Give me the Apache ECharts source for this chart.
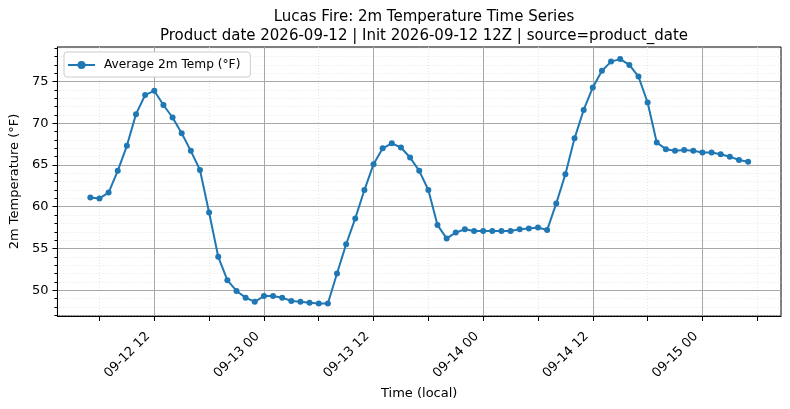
<!DOCTYPE html>
<html>
<head>
<meta charset="utf-8">
<script src="https://cdn.jsdelivr.net/npm/echarts@6/dist/echarts.min.js"></script>
<style>
  html, body { margin: 0; padding: 0; background: #fff; }
  #main { width: 790px; height: 409px; }
</style>
</head>
<body>
<div id="main"></div>
<script>
// hourly series, first point is 2026-09-12 05:00 local (x = hours since 09-12 00)
const firstHour = 5;
const temps = [
    61.1, 61.0, 61.7, 64.3, 67.3, 71.1, 73.4, 73.9, 72.2, 70.7,
    68.8, 66.7, 64.4, 59.3, 54.0, 51.2, 49.9, 49.1, 48.6, 49.3,
    49.3, 49.1, 48.7, 48.6, 48.5, 48.4, 48.4, 52.0, 55.5, 58.6,
    62.0, 65.1, 67.0, 67.6, 67.1, 65.9, 64.3, 62.0, 57.8, 56.2,
    56.9, 57.3, 57.1, 57.1, 57.1, 57.1, 57.1, 57.3, 57.4, 57.5,
    57.2, 60.4, 63.9, 68.2, 71.6, 74.3, 76.3, 77.4, 77.7, 77.0,
    75.6, 72.5, 67.7, 66.9, 66.7, 66.8, 66.7, 66.5, 66.5, 66.3,
    66.0, 65.6, 65.4
];
const hours = temps.map((t, i) => firstHour + i);

const xTicks = [12, 24, 36, 48, 60, 72];
const xTickLabels = ['09-12 12', '09-13 00', '09-13 12', '09-14 00', '09-14 12', '09-15 00'];
const xMinorTicks = [6, 18, 30, 42, 54, 66, 78];
const yTicks = [50, 55, 60, 65, 70, 75];
const yMinorTicks = [47, 48, 49, 51, 52, 53, 54, 56, 57, 58, 59, 61, 62, 63, 64,
    66, 67, 68, 69, 71, 72, 73, 74, 76, 77, 78, 79];

const font = 'DejaVu Sans';
const xMin = 1.4, xMax = 80.6;
const yMin = 46.9, yMax = 79.15;

let myChart = echarts.init(document.getElementById('main'));

let options = {
    animation: false,
    textStyle: { fontFamily: font },
    title: {
        text: 'Lucas Fire: 2m Temperature Time Series\nProduct date 2026-09-12 | Init 2026-09-12 12Z | source=product_date',
        left: 419,
        top: 3,
        textAlign: 'center',
        textStyle: { fontFamily: font, fontSize: 15, fontWeight: 'normal', color: '#000', lineHeight: 19 }
    },
    legend: {
        left: 64,
        top: 52,
        itemWidth: 27,
        itemHeight: 10,
        padding: [7, 10, 6, 3],
        backgroundColor: '#fff',
        borderColor: '#cccccc',
        borderWidth: 1,
        borderRadius: 3,
        textStyle: { fontFamily: font, fontSize: 12.2, color: '#000', padding: [0, 0, 0, 4] },
        data: ['Average 2m Temp (°F)']
    },
    grid: { left: 57, right: 9, top: 47, bottom: 93, show: true, borderColor: '#000', borderWidth: 1 },
    xAxis: [{
        type: 'value',
        min: xMin,
        max: xMax,
        z: 1,
        name: 'Time (local)',
        nameLocation: 'middle',
        nameGap: 70,
        nameTextStyle: { fontFamily: font, fontSize: 13, color: '#000' },
        axisLine: { show: true, lineStyle: { color: '#000', width: 1 } },
        axisTick: { show: true, customValues: xTicks, length: 5, lineStyle: { color: '#000' } },
        axisLabel: {
            customValues: xTicks,
            rotate: 45,
            margin: 12,
            padding: [0, 9, 0, 0],
            fontFamily: font,
            fontSize: 13,
            color: '#000',
            formatter: v => xTickLabels[xTicks.indexOf(v)]
        },
        splitLine: { show: true, lineStyle: { color: '#a8a8a8', width: 1 } }
    }, {
        type: 'value',
        min: xMin,
        max: xMax,
        position: 'bottom',
        z: 0,
        axisLine: { show: false },
        axisTick: { show: true, customValues: xMinorTicks, length: 5, lineStyle: { color: '#000' } },
        axisLabel: { show: false },
        splitLine: { show: true, lineStyle: { color: '#dedede', width: 0.8, type: [1, 2] } }
    }],
    yAxis: [{
        type: 'value',
        min: yMin,
        max: yMax,
        z: 1,
        name: '2m Temperature (°F)',
        nameLocation: 'middle',
        nameGap: 29,
        nameTextStyle: { fontFamily: font, fontSize: 13, color: '#000' },
        axisLine: { show: true, lineStyle: { color: '#000', width: 1 } },
        axisTick: { show: true, customValues: yTicks, length: 5, lineStyle: { color: '#000' } },
        axisLabel: { customValues: yTicks, margin: 9, fontFamily: font, fontSize: 13, color: '#000' },
        splitLine: { show: true, lineStyle: { color: '#a8a8a8', width: 1 } }
    }, {
        type: 'value',
        min: yMin,
        max: yMax,
        position: 'left',
        z: 0,
        axisLine: { show: false },
        axisTick: { show: true, customValues: yMinorTicks, length: 3, lineStyle: { color: '#000' } },
        axisLabel: { show: false },
        splitLine: { show: true, lineStyle: { color: '#e2e2e2', width: 0.8, type: [1, 2] } }
    }],
    series: [{
        name: 'Average 2m Temp (°F)',
        type: 'line',
        xAxisIndex: 0,
        yAxisIndex: 0,
        data: hours.map((h, i) => [h, temps[i]]),
        symbol: 'circle',
        symbolSize: 6,
        color: '#1f77b4',
        lineStyle: { width: 2, color: '#1f77b4' },
        itemStyle: { color: '#1f77b4' }
    }]
};

myChart.setOption(options);
</script>
</body>
</html>
